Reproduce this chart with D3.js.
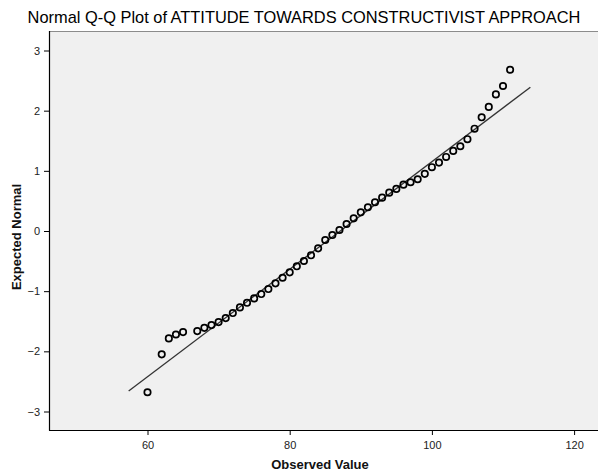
<!DOCTYPE html>
<html>
<head>
<meta charset="utf-8">
<script src="https://cdn.jsdelivr.net/npm/d3@7"></script>
<style>
  html, body { margin: 0; padding: 0; background: #fff; }
  svg { display: block; }
</style>
</head>
<body>
<svg id="chart" width="598" height="474"></svg>
<script>
const observed = [60, 62, 63, 64, 65, 67, 68, 69, 70, 71, 72, 73, 74, 75, 76, 77, 78, 79, 80, 81, 82, 83, 84, 85, 86, 87, 88, 89, 90, 91, 92, 93, 94, 95, 96, 97, 98, 99, 100, 101, 102, 103, 104, 105, 106, 107, 108, 109, 110, 111];
const expected = [-2.68, -2.05, -1.785, -1.72, -1.68, -1.664, -1.61, -1.564, -1.514, -1.448, -1.364, -1.27, -1.193, -1.12, -1.048, -0.965, -0.87, -0.777, -0.687, -0.587, -0.499, -0.404, -0.288, -0.15, -0.067, 0.017, 0.116, 0.21, 0.31, 0.394, 0.477, 0.554, 0.637, 0.70, 0.77, 0.81, 0.86, 0.95, 1.06, 1.137, 1.231, 1.331, 1.409, 1.526, 1.70, 1.89, 2.063, 2.27, 2.41, 2.68];
const lineX = [57.35, 113.85];
const lineY = [-2.66, 2.39];
const xTicks = [60, 80, 100, 120];
const yTicks = [-3, -2, -1, 0, 1, 2, 3];
const titleText = "Normal Q-Q Plot of ATTITUDE TOWARDS CONSTRUCTIVIST APPROACH";
const xLabel = "Observed Value";
const yLabel = "Expected Normal";

const svg = d3.select("#chart");
const font = "'Liberation Sans', Arial, sans-serif";

const plot = { left: 49, top: 31, right: 602, bottom: 430 };
const x = d3.scaleLinear().domain([60, 120]).range([147.5, 574.1]);
const y = d3.scaleLinear().domain([-3, 3]).range([411.5, 50.5]);

// plot background
svg.append("rect")
  .attr("x", plot.left).attr("y", plot.top)
  .attr("width", plot.right - plot.left).attr("height", plot.bottom - plot.top)
  .attr("fill", "#f0f0f0");

// top border (grey)
svg.append("line")
  .attr("x1", plot.left).attr("x2", plot.right)
  .attr("y1", plot.top + 0.5).attr("y2", plot.top + 0.5)
  .attr("stroke", "#8c8c8c").attr("stroke-width", 1);

// axes
const xAxis = d3.axisBottom(x).tickValues(xTicks).tickSize(5).tickPadding(6).tickFormat(d3.format("d"));
const yAxis = d3.axisLeft(y).tickValues(yTicks).tickSize(5).tickPadding(4).tickFormat(d3.format("d"));

const gx = svg.append("g").attr("transform", `translate(0,${plot.bottom})`).call(xAxis);
const gy = svg.append("g").attr("transform", `translate(${plot.left},0)`).call(yAxis);
[gx, gy].forEach(g => {
  g.select(".domain").remove();
  g.selectAll(".tick line").attr("stroke", "#000").attr("stroke-width", 1);
  g.selectAll(".tick text").attr("fill", "#222").style("font-family", font).style("font-size", "11px");
});

// left & bottom border lines
svg.append("line")
  .attr("x1", plot.left + 0.5).attr("x2", plot.left + 0.5)
  .attr("y1", plot.top).attr("y2", plot.bottom + 0.5)
  .attr("stroke", "#000").attr("stroke-width", 1.2);
svg.append("line")
  .attr("x1", plot.left).attr("x2", plot.right)
  .attr("y1", plot.bottom + 0.5).attr("y2", plot.bottom + 0.5)
  .attr("stroke", "#000").attr("stroke-width", 1.2);

// reference line
svg.append("line")
  .attr("x1", x(lineX[0])).attr("y1", y(lineY[0]))
  .attr("x2", x(lineX[1])).attr("y2", y(lineY[1]))
  .attr("stroke", "#333").attr("stroke-width", 1.3);

// points
svg.append("g").selectAll("circle")
  .data(observed.map((v, i) => ({ v, e: expected[i] })))
  .join("circle")
  .attr("cx", d => x(d.v)).attr("cy", d => y(d.e))
  .attr("r", 3.2)
  .attr("fill", "none")
  .attr("stroke", "#000")
  .attr("stroke-width", 1.7);

// title
svg.append("text")
  .attr("x", 304).attr("y", 23)
  .attr("text-anchor", "middle")
  .style("font-family", font).style("font-size", "16.4px")
  .attr("fill", "#000")
  .text(titleText);

// axis labels
svg.append("text")
  .attr("x", 320).attr("y", 469)
  .attr("text-anchor", "middle")
  .style("font-family", font).style("font-size", "13px").style("font-weight", "bold")
  .attr("fill", "#111")
  .text(xLabel);

svg.append("text")
  .attr("transform", `translate(21,237) rotate(-90)`)
  .attr("text-anchor", "middle")
  .style("font-family", font).style("font-size", "13px").style("font-weight", "bold")
  .attr("fill", "#111")
  .text(yLabel);
</script>
</body>
</html>
